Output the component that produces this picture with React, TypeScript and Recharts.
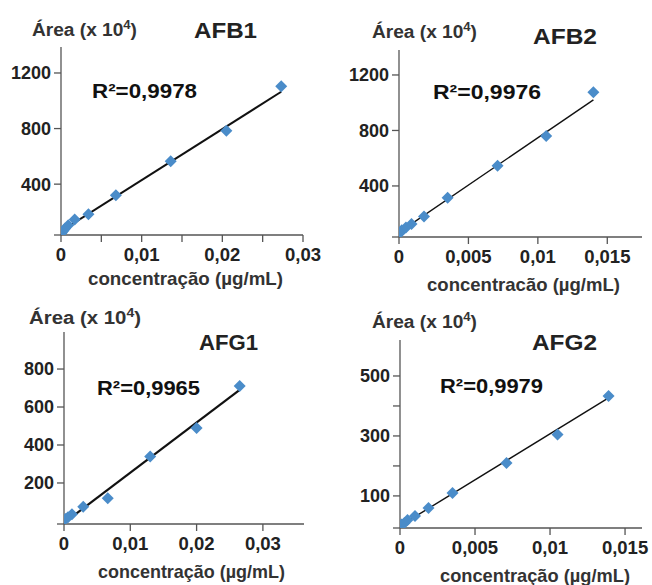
import React from 'react';
import { ScatterChart, Scatter, XAxis, YAxis } from 'recharts';

// ---------- data ----------
const afb1X = [0.0001, 0.0003, 0.0005, 0.0009, 0.0017, 0.0034, 0.0068, 0.0136, 0.0205, 0.0273];
const afb1Y = [50, 65, 80, 105, 145, 183, 320, 565, 785, 1105];
const afb1FitX = [0, 0.0273];
const afb1FitY = [62, 1065];

const afb2X = [0.0001, 0.0002, 0.0005, 0.0009, 0.0018, 0.0035, 0.0071, 0.0106, 0.014];
const afb2Y = [65, 80, 100, 125, 180, 315, 545, 760, 1075];
const afb2FitX = [0, 0.014];
const afb2FitY = [65, 1020];

const afg1X = [0.0002, 0.0006, 0.0012, 0.0029, 0.0066, 0.013, 0.02, 0.0265];
const afg1Y = [10, 20, 35, 75, 120, 340, 490, 710];
const afg1FitX = [0, 0.0265];
const afg1FitY = [-10, 690];

const afg2X = [0.0001, 0.0003, 0.0005, 0.001, 0.0019, 0.0035, 0.0071, 0.0105, 0.0139];
const afg2Y = [5, 10, 20, 33, 60, 110, 210, 305, 433];
const afg2FitX = [0, 0.0139];
const afg2FitY = [0, 427];

const titles = ['AFB1', 'AFB2', 'AFG1', 'AFG2'];
const r2Labels = ['R²=0,9978', 'R²=0,9976', 'R²=0,9965', 'R²=0,9979'];
const xTitles = ['concentração (µg/mL)', 'concentracão (µg/mL)', 'concentração (µg/mL)', 'concentração (µg/mL)'];

const xTicks1 = [0, 0.005, 0.01, 0.015, 0.02, 0.025, 0.03];
const xTickLabels1 = ['0', '', '0,01', '', '0,02', '', '0,03'];
const yTicks1 = [34, 400, 800, 1200];
const yTickLabels1 = ['', '400', '800', '1200'];

const xTicks2 = [0, 0.005, 0.01, 0.015];
const xTickLabels2 = ['0', '0,005', '0,01', '0,015'];
const yTicks2 = [32, 400, 800, 1200];
const yTickLabels2 = ['', '400', '800', '1200'];

const xTicks3 = [0, 0.01, 0.02, 0.03];
const xTickLabels3 = ['0', '0,01', '0,02', '0,03'];
const yTicks3 = [-16, 200, 400, 600, 800];
const yTickLabels3 = ['', '200', '400', '600', '800'];

const xTicks4 = [0, 0.005, 0.01, 0.015];
const xTickLabels4 = ['0', '0,005', '0,01', '0,015'];
const yTicks4 = [-7, 100, 200, 300, 400, 500];
const yTickLabels4 = ['', '100', '', '300', '', '500'];

const zip = (xs: number[], ys: number[]) => xs.map((x, i) => ({ x, y: ys[i] }));

// ---------- layout ----------
const FONT = '"Liberation Sans", Arial, sans-serif';
const POINT = '#4a8cc9';

type Panel = {
  box: [number, number, number, number];
  xDomain: [number, number];
  yDomain: [number, number];
  xTicks: number[];
  xLabels: string[];
  yTicks: number[];
  yLabels: string[];
  pts: { x: number; y: number }[];
  fit: { x: number; y: number }[];
  lineW: number;
};

const panels: Panel[] = [
  { box: [61, 47, 242, 188], xDomain: [0, 0.03], yDomain: [34, 1387], xTicks: xTicks1, xLabels: xTickLabels1, yTicks: yTicks1, yLabels: yTickLabels1, pts: zip(afb1X, afb1Y), fit: zip(afb1FitX, afb1FitY), lineW: 2 },
  { box: [399, 50, 243, 187], xDomain: [0, 0.0175], yDomain: [32, 1380], xTicks: xTicks2, xLabels: xTickLabels2, yTicks: yTicks2, yLabels: yTickLabels2, pts: zip(afb2X, afb2Y), fit: zip(afb2FitX, afb2FitY), lineW: 1.4 },
  { box: [64, 332, 240, 192], xDomain: [0, 0.0362], yDomain: [-16, 995], xTicks: xTicks3, xLabels: xTickLabels3, yTicks: yTicks3, yLabels: yTickLabels3, pts: zip(afg1X, afg1Y), fit: zip(afg1FitX, afg1FitY), lineW: 2.2 },
  { box: [400, 340, 242, 188], xDomain: [0, 0.01613], yDomain: [-7, 620], xTicks: xTicks4, xLabels: xTickLabels4, yTicks: yTicks4, yLabels: yTickLabels4, pts: zip(afg2X, afg2Y), fit: zip(afg2FitX, afg2FitY), lineW: 1.4 },
];

// overlay text positions: [x, baseline, width]
const areaPos = [[32, 36, 105], [372, 38, 105], [29, 324, 112], [372, 328, 105]];
const titlePos = [[194, 38, 63], [533, 44, 64], [199, 350, 59], [532, 350, 65]];
const r2Pos = [[92, 98, 105], [433, 99, 108], [97, 395, 103], [440, 393, 103]];
const xtPos = [[88, 285, 195], [427, 291, 193], [98, 578, 187], [440, 582, 190]];

const Diamond = (props: any) => {
  const { cx, cy } = props;
  if (cx == null || cy == null) return <g />;
  const r = 6;
  return <polygon points={`${cx},${cy - r} ${cx + r},${cy} ${cx},${cy + r} ${cx - r},${cy}`} fill={POINT} />;
};

const Nothing = () => <g />;

const PanelChart = ({ p }: { p: Panel }) => {
  const [l, t, w, h] = p.box;
  const padL = 70, padT = 10, padR = 30, padB = 40;
  const tickStyle = { fill: '#222', fontSize: 18, fontWeight: 700, fontFamily: FONT };
  return (
    <div style={{ position: 'absolute', left: l - padL, top: t - padT }}>
      <ScatterChart width={w + padL + padR} height={h + padT + padB} margin={{ top: padT, right: padR, bottom: 0, left: 0 }}>
        <XAxis
          type="number"
          dataKey="x"
          domain={p.xDomain}
          allowDataOverflow
          ticks={p.xTicks}
          interval={0}
          height={padB}
          tickSize={7}
          tickMargin={6}
          stroke="#555"
          strokeWidth={1.3}
          tick={{ ...tickStyle, fontSize: 18.5 }}
          tickFormatter={(v: number, i: number) => p.xLabels[i] ?? ''}
        />
        <YAxis
          type="number"
          dataKey="y"
          domain={p.yDomain}
          allowDataOverflow
          ticks={p.yTicks}
          interval={0}
          width={padL}
          tickSize={7}
          tickMargin={3}
          stroke="#555"
          strokeWidth={1.3}
          tick={tickStyle}
          tickFormatter={(v: number, i: number) => p.yLabels[i] ?? ''}
        />
        <Scatter data={p.fit} line={{ stroke: '#111', strokeWidth: p.lineW }} shape={Nothing} isAnimationActive={false} />
        <Scatter data={p.pts} shape={Diamond} isAnimationActive={false} />
      </ScatterChart>
    </div>
  );
};

export default function App() {
  return (
    <div style={{ position: 'absolute', left: 0, top: 0, width: 652, height: 585, background: '#fff', overflow: 'hidden' }}>
      {panels.map((p, i) => (
        <PanelChart key={i} p={p} />
      ))}
      <svg width={652} height={585} style={{ position: 'absolute', left: 0, top: 0, pointerEvents: 'none' }} fontFamily={FONT} fontWeight={700}>
        {panels.map((_, i) => (
          <g key={i}>
            <text x={areaPos[i][0]} y={areaPos[i][1]} fontSize={17.5} fill="#333" textLength={areaPos[i][2]} lengthAdjust="spacingAndGlyphs">
              Área (x 10<tspan dy={-7} fontSize={12}>4</tspan><tspan dy={7}>)</tspan>
            </text>
            <text x={titlePos[i][0]} y={titlePos[i][1]} fontSize={22.5} fill="#222" textLength={titlePos[i][2]} lengthAdjust="spacingAndGlyphs">
              {titles[i]}
            </text>
            <text x={r2Pos[i][0]} y={r2Pos[i][1]} fontSize={21} fill="#111" textLength={r2Pos[i][2]} lengthAdjust="spacingAndGlyphs">
              {r2Labels[i]}
            </text>
            <text x={xtPos[i][0]} y={xtPos[i][1]} fontSize={18.5} fill="#333" textLength={xtPos[i][2]} lengthAdjust="spacingAndGlyphs">
              {xTitles[i]}
            </text>
          </g>
        ))}
      </svg>
    </div>
  );
}
